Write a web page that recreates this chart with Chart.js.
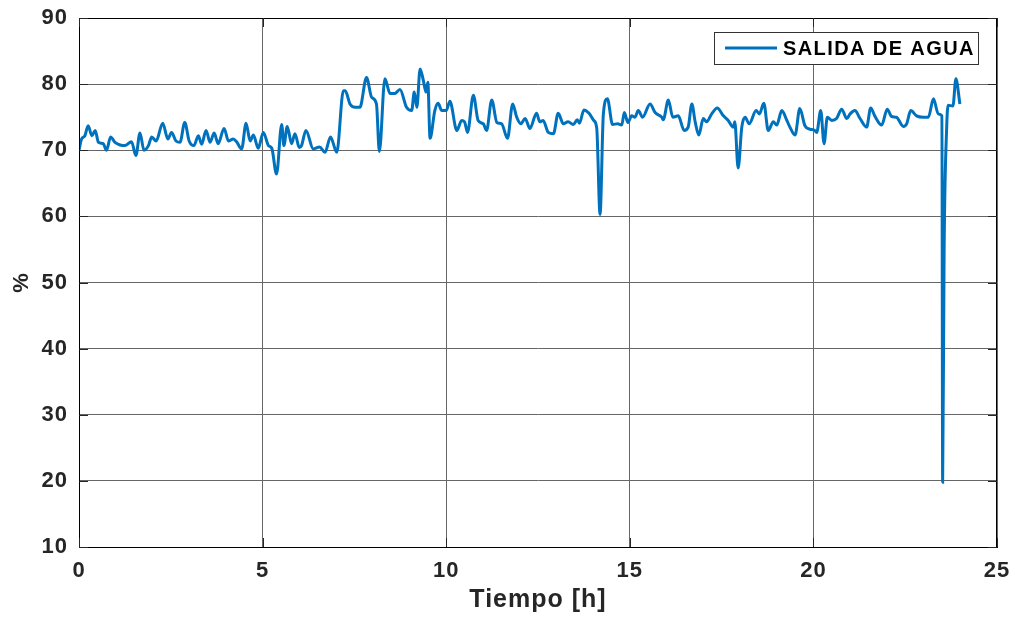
<!DOCTYPE html>
<html lang="es">
<head>
<meta charset="utf-8">
<title>Salida de agua</title>
<script src="https://cdn.jsdelivr.net/npm/chart.js@4.4.1/dist/chart.umd.min.js"></script>
<style>
    html, body { margin: 0; padding: 0; background: #fff; }
    #contenedor { width: 1016px; height: 619px; }
</style>
</head>
<body>
<div id="contenedor"><canvas id="grafico-agua"></canvas></div>
<script>
// ---------------------
// Datos
// ---------------------
const TIEMPOS = [
    0, 0.07, 0.16, 0.25, 0.35, 0.44, 0.53, 0.66, 0.75, 0.86, 0.98, 1.12, 1.25, 1.43, 1.55, 1.66, 1.77, 1.89, 1.98,
    2.1, 2.28, 2.42, 2.52, 2.64, 2.75, 2.88, 3.0, 3.13, 3.25, 3.34, 3.46, 3.57, 3.68, 3.79, 3.95,
    4.07, 4.2, 4.29, 4.43, 4.55, 4.66, 4.75, 4.88, 5.02, 5.16, 5.25, 5.38, 5.52, 5.58, 5.67, 5.79, 5.88,
    6.0, 6.06, 6.18, 6.38, 6.55, 6.7, 6.85, 7.02, 7.2, 7.25, 7.38, 7.52, 7.65, 7.83, 7.97,
    8.1, 8.18, 8.33, 8.47, 8.6, 8.74, 8.92, 9.06, 9.13, 9.2, 9.29, 9.38, 9.45, 9.5, 9.56, 9.69, 9.78, 9.88,
    10.0, 10.1, 10.29, 10.42, 10.5, 10.58, 10.74, 10.87, 11.01, 11.1, 11.24, 11.38, 11.51, 11.67, 11.81, 11.92,
    12.03, 12.15, 12.28, 12.46, 12.55, 12.64, 12.78, 12.92, 13.05, 13.19, 13.32, 13.46, 13.57, 13.63, 13.75, 13.89,
    14.02, 14.1, 14.19, 14.28, 14.39, 14.53, 14.67, 14.78, 14.85, 14.95, 15.05, 15.14, 15.23, 15.35, 15.55, 15.69, 15.87, 15.91,
    16.05, 16.17, 16.32, 16.48, 16.59, 16.69, 16.78, 16.88, 17.0, 17.09, 17.23, 17.38, 17.55, 17.68, 17.82, 17.86, 17.95,
    18.05, 18.14, 18.25, 18.44, 18.53, 18.65, 18.77, 18.91, 19.0, 19.14, 19.27, 19.36, 19.5, 19.63, 19.77, 19.9,
    20.04, 20.09, 20.2, 20.29, 20.38, 20.5, 20.63, 20.77, 20.91, 21.0, 21.13, 21.27, 21.45, 21.56, 21.67, 21.86,
    22.01, 22.13, 22.26, 22.45, 22.54, 22.65, 22.81, 22.99, 23.13, 23.27, 23.4, 23.5, 23.52, 23.56, 23.63, 23.67, 23.8, 23.88, 23.99
];

const VALORES = [
    70, 71.7, 72.2, 73.7, 72.2, 73, 71.2, 71, 70, 72, 71.2, 70.8, 70.7, 71.3, 69.2, 72.6, 70, 70.7, 72,
    71.4, 74.1, 71.7, 72.7, 71.4, 71.2, 74.2, 71.4, 70.7, 72.2, 70.9, 73, 71.2, 72.6, 71, 73.3,
    71.4, 71.7, 71.3, 70.2, 74.1, 71.4, 72.3, 70.3, 72.7, 70.7, 70.3, 66.4, 73.9, 70.7, 73.6, 71, 72.5,
    70.4, 70.7, 73, 70.2, 70.5, 69.7, 72, 69.7, 79, 79, 77, 76.5, 76.5, 81, 78,
    77, 69.8, 80.8, 78.6, 78.6, 79.2, 76.5, 76, 78.8, 76.5, 82.3, 80.5, 78.8, 80.3, 71.8, 76, 77.1, 76,
    76, 77.4, 73, 74.5, 74.3, 72.7, 78.3, 74.5, 74, 73, 77.6, 74.2, 74, 71.8, 77, 75,
    74, 74.8, 73.3, 75.6, 74.3, 74.5, 72.7, 72.5, 75.6, 74, 74.3, 73.9, 74.6, 74.1, 76.1, 75.6,
    74.5, 73.3, 60.3, 75.5, 77.8, 73.9, 74, 73.8, 75.7, 74.2, 75.2, 75, 76, 75, 77, 75.7, 75, 74.6,
    77.6, 75, 75.2, 73, 73.5, 77, 74.3, 72.3, 74.8, 74.3, 75.5, 76.4, 75.2, 74.5, 73.5, 74.3, 67.3,
    73.5, 75, 74, 76, 75.5, 77.1, 73, 74.3, 73.8, 76, 74.6, 73.5, 72.3, 76.3, 73.7, 73.2,
    73, 72.7, 76, 71, 75, 74.5, 74.8, 76.2, 74.8, 75.5, 76, 74.8, 73.5, 76.4, 75.2, 73.8,
    76.2, 75.1, 75, 73.6, 74, 76, 75.2, 75, 75, 77.8, 75.5, 75.2, 19.8, 55, 73.5, 76.8, 76.7, 80.8, 77
];

const TICKS_X = [0, 5, 10, 15, 20, 25];
const TICKS_Y = [10, 20, 30, 40, 50, 60, 70, 80, 90];

const ETIQUETA_SERIE = 'SALIDA DE AGUA';
const TITULO_X = 'Tiempo [h]';
const TITULO_Y = '%';

// ---------------------
// Estilos
// ---------------------
const COLOR_LINEA = '#0072BD';
const COLOR_GRILLA = '#666666';
const COLOR_TEXTO = '#262626';
const FUENTE = '"Liberation Sans", Arial, sans-serif';

// ---------------------
// Plugin: caja, marcas internas y leyenda
// ---------------------
const marcoPlugin = {
    id: 'marco',
    beforeDraw(chart) {
        // el texto original es algo más ancho que Arial
        chart.ctx.letterSpacing = '1px';
    },
    afterDraw(chart) {
        const { ctx, chartArea: a, scales } = chart;
        ctx.save();

        // Caja del eje
        ctx.strokeStyle = '#000';
        ctx.lineWidth = 1;
        ctx.strokeRect(a.left + 0.5, a.top + 0.5, a.right - a.left - 1, a.bottom - a.top);

        // Marcas hacia adentro (estilo MATLAB)
        const largo = 9;
        ctx.strokeStyle = '#262626';
        ctx.beginPath();
        TICKS_Y.forEach(v => {
            const y = Math.round(scales.y.getPixelForValue(v)) + 0.5;
            ctx.moveTo(a.left, y); ctx.lineTo(a.left + largo, y);
            ctx.moveTo(a.right, y); ctx.lineTo(a.right - largo, y);
        });
        TICKS_X.forEach(v => {
            const x = Math.round(scales.x.getPixelForValue(v)) + 0.5;
            ctx.moveTo(x, a.bottom); ctx.lineTo(x, a.bottom - largo);
            ctx.moveTo(x, a.top); ctx.lineTo(x, a.top + largo);
        });
        ctx.stroke();

        // Leyenda
        const ds = chart.data.datasets[0];
        const w = 264, h = 32;
        const x0 = a.right - 19 - w;
        const y0 = a.top + 14;
        ctx.fillStyle = '#fff';
        ctx.fillRect(x0, y0, w, h);
        ctx.strokeStyle = '#333';
        ctx.strokeRect(x0 + 0.5, y0 + 0.5, w, h);

        ctx.strokeStyle = ds.borderColor;
        ctx.lineWidth = 3;
        ctx.beginPath();
        ctx.moveTo(x0 + 11, y0 + h / 2);
        ctx.lineTo(x0 + 63, y0 + h / 2);
        ctx.stroke();

        ctx.fillStyle = '#000';
        ctx.font = 'bold 20px ' + FUENTE;
        ctx.letterSpacing = '1.4px';
        ctx.textBaseline = 'middle';
        ctx.textAlign = 'left';
        ctx.fillText(ds.label, x0 + 69, y0 + h / 2 + 1);

        ctx.restore();
        ctx.letterSpacing = '0px';
    }
};

// ---------------------
// Gráfico
// ---------------------
const puntos = TIEMPOS.map((t, i) => ({ x: t, y: VALORES[i] }));

new Chart(document.getElementById('grafico-agua'), {
    type: 'line',
    data: {
        datasets: [{
            label: ETIQUETA_SERIE,
            data: puntos,
            borderColor: COLOR_LINEA,
            borderWidth: 3,
            pointRadius: 0,
            cubicInterpolationMode: 'monotone',
            fill: false
        }]
    },
    options: {
        responsive: true,
        maintainAspectRatio: false,
        animation: false,
        layout: { padding: 0 },
        plugins: {
            legend: { display: false },
            tooltip: { enabled: false }
        },
        scales: {
            x: {
                type: 'linear',
                min: 0,
                max: 25,
                afterBuildTicks: (s) => { s.ticks = TICKS_X.map(v => ({ value: v })); },
                afterFit: (s) => {
                    s.height = 72;
                    s.paddingLeft = 0;
                    s.paddingRight = 19;
                },
                grid: { color: COLOR_GRILLA, lineWidth: 1, drawTicks: false },
                border: { color: '#000' },
                ticks: {
                    padding: 11,
                    color: COLOR_TEXTO,
                    maxRotation: 0,
                    font: { family: FUENTE, size: 22, weight: 'bold' }
                },
                title: {
                    display: true,
                    text: TITULO_X,
                    color: COLOR_TEXTO,
                    padding: { top: 0, bottom: 4 },
                    font: { family: FUENTE, size: 25, weight: 'bold' }
                }
            },
            y: {
                min: 10,
                max: 90,
                afterBuildTicks: (s) => { s.ticks = TICKS_Y.map(v => ({ value: v })); },
                afterFit: (s) => {
                    s.width = 79;
                    s.paddingTop = 18;
                    s.paddingBottom = 0;
                },
                grid: { color: COLOR_GRILLA, lineWidth: 1, drawTicks: false },
                border: { color: '#000' },
                ticks: {
                    padding: 11,
                    color: COLOR_TEXTO,
                    font: { family: FUENTE, size: 22, weight: 'bold' }
                },
                title: {
                    display: true,
                    text: TITULO_Y,
                    color: COLOR_TEXTO,
                    padding: { top: 9, bottom: 0 },
                    font: { family: FUENTE, size: 22, weight: 'bold' }
                }
            }
        }
    },
    plugins: [marcoPlugin]
});
</script>
</body>
</html>
